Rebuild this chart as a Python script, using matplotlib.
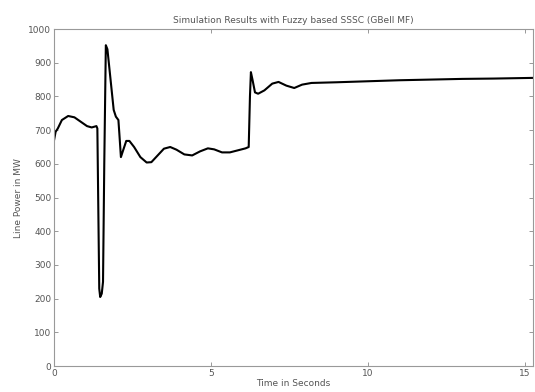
import matplotlib
matplotlib.use("Agg")
import matplotlib.pyplot as plt

title = "Simulation Results with Fuzzy based SSSC (GBell MF)"
xlabel = "Time in Seconds"
ylabel = "Line Power in MW"

time_s = [0.0, 0.05, 0.12, 0.25, 0.45, 0.65, 0.85, 1.05, 1.2, 1.35, 1.38, 1.44, 1.47,
          1.52, 1.56, 1.6, 1.65, 1.7, 1.8, 1.9, 1.97, 2.05, 2.08, 2.13, 2.2, 2.3, 2.4,
          2.55, 2.75, 2.95, 3.1, 3.3, 3.5, 3.7, 3.9, 4.15, 4.4, 4.65, 4.9, 5.1, 5.35,
          5.6, 5.85, 6.1, 6.2, 6.24, 6.27, 6.32, 6.4, 6.5, 6.7, 6.95, 7.15, 7.4, 7.65,
          7.9, 8.2, 9.0, 10.0, 11.0, 12.0, 13.0, 14.0, 15.25]
power_mw = [670, 695, 705, 730, 742, 738, 725, 712, 708, 712, 705, 230, 205,
            215, 250, 600, 952, 940, 850, 760, 740, 730, 690, 620, 640, 668, 668,
            650, 620, 604, 605, 625, 645, 650, 642, 628, 625, 637, 646, 643, 634,
            634, 640, 646, 650, 800, 872, 850, 812, 808, 818, 838, 843, 832, 825,
            835, 840, 842, 845, 848, 850, 852, 853, 855]

xticks = [0, 5, 10, 15]
yticks = [0, 100, 200, 300, 400, 500, 600, 700, 800, 900, 1000]

fig = plt.figure(figsize=(5.35, 3.92), dpi=100)
ax = fig.add_axes([0.101, 0.066, 0.895, 0.860])
ax.plot(time_s, power_mw, color="black", linewidth=1.5)
ax.set_xlim(0, 15.25)
ax.set_ylim(0, 1000)
ax.set_xticks(xticks)
ax.set_yticks(yticks)
tc = "#555555"
ax.tick_params(direction="in", length=3, width=0.6, colors="#888888",
               labelcolor=tc, labelsize=6.5, top=True, right=True, pad=2)
for s in ax.spines.values():
    s.set_color("#999999")
    s.set_linewidth(0.8)
ax.set_title(title, fontsize=6.5, color=tc, pad=4)
ax.set_xlabel(xlabel, fontsize=6.5, color=tc, labelpad=1)
ax.set_ylabel(ylabel, fontsize=6.5, color=tc, labelpad=4)
fig.savefig("out.png", dpi=100)
